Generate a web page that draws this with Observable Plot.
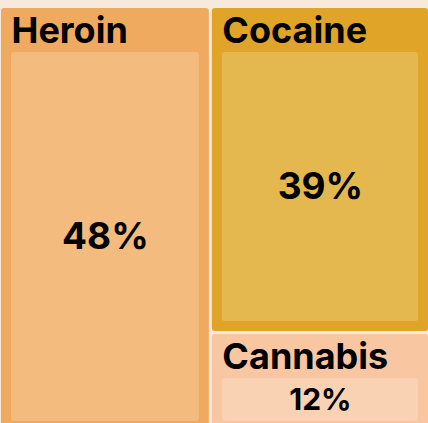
<!DOCTYPE html>
<html>
<head>
<meta charset="utf-8">
<script src="https://cdn.jsdelivr.net/npm/d3@7"></script>
<script src="https://cdn.jsdelivr.net/npm/@observablehq/plot@0.6"></script>
<style>
  html, body { margin: 0; padding: 0; background: #f5eadb; overflow: hidden; }
  #chart svg { display: block; }
</style>
</head>
<body>
<div id="chart"></div>
<script>
const drugs = ["Heroin", "Cocaine", "Cannabis"];
const shares = [48.4, 38.5, 11.8];
const labels = ["48%", "39%", "12%"];
const groups = ["left", "right", "right"];
const outerColors = ["#f0aa60", "#e0a428", "#f9c6a2"];
const innerColors = ["#f3bb7e", "#e5b84f", "#f9d1b3"];

const W = 428, H = 423;
const rootData = {
  name: "root",
  children: ["left", "right"].map(g => ({
    name: g,
    children: drugs.map((d, i) => ({ name: d, value: shares[i], i })).filter((d) => groups[d.i] === g)
  }))
};
const root = d3.hierarchy(rootData).sum(d => d.value || 0);
d3.treemap().tile(d3.treemapSliceDice).size([427, 423]).paddingInner(3)(root);
const leaves = root.leaves().map(n => ({
  name: n.data.name,
  label: labels[n.data.i],
  outer: outerColors[n.data.i],
  inner: innerColors[n.data.i],
  small: n.data.i === 2,
  x1: n.x0 + 1, x2: n.x1 + 1, y1: n.y0 + 8, y2: n.y1 + 8
}));

const chart = Plot.plot({
  width: W,
  height: H,
  margin: 0,
  x: { domain: [0, W], range: [0, W], axis: null },
  y: { domain: [0, H], range: [0, H], axis: null },
  style: { background: "#f5eadb", fontFamily: "Inter, sans-serif" },
  marks: [
    Plot.rect(leaves, { x1: "x1", x2: "x2", y1: "y1", y2: "y2", fill: "outer", rx: 3 }),
    Plot.rect(leaves, { x1: "x1", x2: "x2", y1: "y1", y2: "y2", fill: "inner", rx: 3,
      insetLeft: 10, insetRight: 10, insetTop: 44, insetBottom: 10 }),
    Plot.text(leaves, { x: "x1", y: "y1", text: "name", textAnchor: "start", lineAnchor: "top",
      dx: 10, dy: 9, fontSize: 36, fontWeight: 700, fill: "#000" }),
    Plot.text(leaves.filter(d => !d.small), { x: d => (d.x1 + d.x2) / 2, y: d => (d.y1 + 44 + d.y2 - 10) / 2,
      text: "label", lineAnchor: "middle", fontSize: 37, fontWeight: 700, fill: "#000" }),
    Plot.text(leaves.filter(d => d.small), { x: d => (d.x1 + d.x2) / 2, y: d => (d.y1 + 44 + d.y2 - 10) / 2,
      text: "label", lineAnchor: "middle", fontSize: 30, fontWeight: 700, fill: "#000" })
  ]
});
document.getElementById("chart").appendChild(chart);
</script>
</body>
</html>
